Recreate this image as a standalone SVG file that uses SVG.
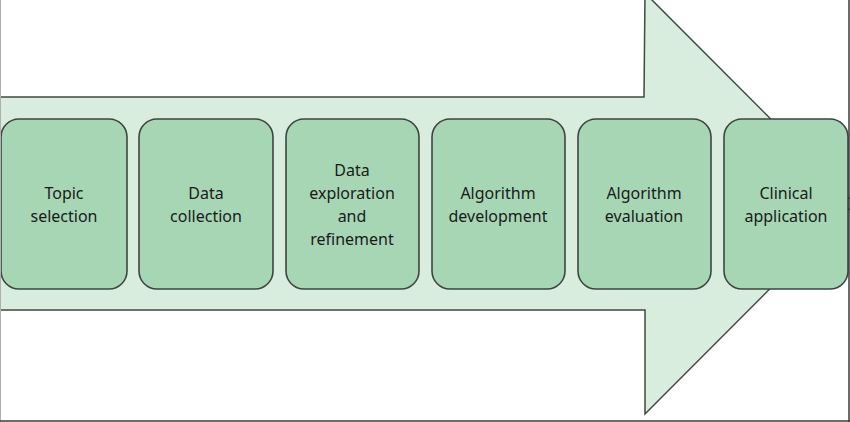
<svg xmlns="http://www.w3.org/2000/svg" width="850" height="422" viewBox="0 0 850 422">
<style>
.arrow{fill:#d9eddf;stroke:#3f4a44;stroke-width:1.5;stroke-linejoin:miter}
.box{fill:#a7d6b5;stroke:#3e4540;stroke-width:1.6}
.lbl{font-family:"Noto Sans","Open Sans",sans-serif;font-size:16px;fill:#1a1a1a;text-anchor:middle}
</style>
<rect x="0" y="0" width="850" height="422" fill="#ffffff"/>
<g id="arrow">
<path class="arrow" d="M-5,97 L644,97 L645,-7 L855,203.5 L645,414 L645,310 L-5,310 Z"/>
</g>
<g id="connectors"></g>
<g id="n1"><rect class="box" x="1" y="119" width="126" height="170" rx="18"/>
<text class="lbl" x="64" y="199">Topic</text><text class="lbl" x="64" y="222">selection</text></g>
<g id="n2"><rect class="box" x="139" y="119" width="134" height="170" rx="18"/>
<text class="lbl" x="206" y="199">Data</text><text class="lbl" x="206" y="222">collection</text></g>
<g id="n3"><rect class="box" x="286" y="119" width="133" height="170" rx="18"/>
<text class="lbl" x="352" y="176">Data</text><text class="lbl" x="352" y="199">exploration</text><text class="lbl" x="352" y="222">and</text><text class="lbl" x="352" y="245">refinement</text></g>
<g id="n4"><rect class="box" x="432" y="119" width="133" height="170" rx="18"/>
<text class="lbl" x="498" y="199">Algorithm</text><text class="lbl" x="498" y="222">development</text></g>
<g id="n5"><rect class="box" x="578" y="119" width="133" height="170" rx="18"/>
<text class="lbl" x="644" y="199">Algorithm</text><text class="lbl" x="644" y="222">evaluation</text></g>
<g id="n6"><rect class="box" x="724" y="119" width="124" height="170" rx="18"/>
<text class="lbl" x="786" y="199">Clinical</text><text class="lbl" x="786" y="222">application</text></g>
<g id="frame">
<line x1="0.5" y1="0" x2="0.5" y2="422" stroke="#b0b0b0" stroke-width="1"/>
<line x1="849" y1="0" x2="849" y2="422" stroke="#3a3a3a" stroke-width="1.5"/>
<line x1="0" y1="421" x2="850" y2="421" stroke="#3a3a3a" stroke-width="1.5"/>
</g>
</svg>
